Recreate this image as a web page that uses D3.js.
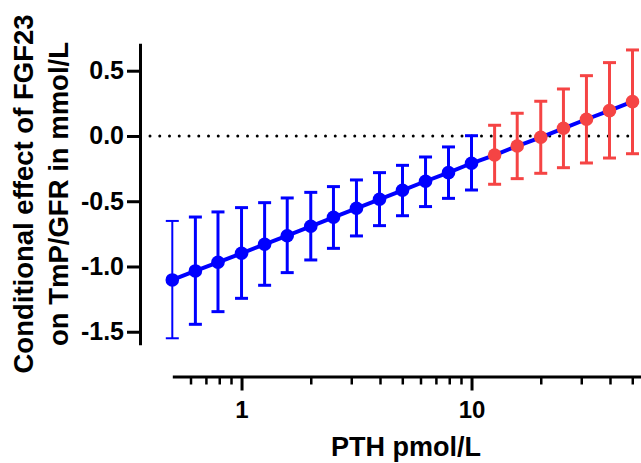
<!DOCTYPE html>
<html>
<head>
<meta charset="utf-8">
<script src="https://cdn.jsdelivr.net/npm/d3@7"></script>
<style>
  body { margin: 0; background: #fff; }
  svg { display: block; }
  text { font-family: "Liberation Sans", Arial, sans-serif; font-weight: bold; fill: #000; }
  .axis path, .axis line { stroke: #000; }
</style>
</head>
<body>
<script>
// PTH values (pmol/L) at which the conditional effect was evaluated
const pth = [0.5, 0.63, 0.79, 1.0, 1.26, 1.58, 2.0, 2.51, 3.16, 3.98, 5.01,
             6.31, 7.94, 10.0, 12.6, 15.8, 20.0, 25.1, 31.6, 39.8, 50.1]
// conditional effect of FGF23 and its CI
const effect = [-1.103, -1.034, -0.968, -0.899, -0.830, -0.764, -0.692, -0.623, -0.554, -0.485, -0.416,
                -0.347, -0.281, -0.209, -0.146, -0.077, -0.010, 0.059, 0.128, 0.194, 0.263]
const upper = [-0.651, -0.621, -0.582, -0.549, -0.511, -0.475, -0.432, -0.388, -0.337, -0.281, -0.225,
               -0.161, -0.084, 0.002, 0.082, 0.174, 0.266, 0.360, 0.462, 0.562, 0.659]
const lower = [-1.550, -1.443, -1.346, -1.244, -1.144, -1.047, -0.950, -0.861, -0.766, -0.687, -0.611,
               -0.541, -0.478, -0.414, -0.370, -0.327, -0.286, -0.243, -0.207, -0.169, -0.136]
// significance of each estimate
const sig = ['yes','yes','yes','yes','yes','yes','yes','yes','yes','yes','yes',
             'yes','yes','yes','no','no','no','no','no','no','no']

const yTicks = [-1.5, -1.0, -0.5, 0.0, 0.5]
const xMajor = [1, 10]
const xMinor = [0.6, 0.7, 0.8, 0.9, 2, 3, 4, 5, 6, 7, 8, 9, 20, 30, 40, 50]

const data = pth.map((p, i) => ({pth: p, est: effect[i], hi: upper[i], lo: lower[i], sig: sig[i]}))

const W = 641, H = 463
const color = {yes: '#0000ff', no: '#f54444'}

let svg = d3.select('body').append('svg')
    .attr('width', W)
    .attr('height', H)

let x = d3.scaleLog()
    .domain([0.5, 55])
    .range([172.3, 641.8])

let y = d3.scaleLinear()
    .domain([-1.6, 0.71])
    .range([344.8, 43.3])

const xAxisY = 376.5

// y axis
svg.append('g')
    .attr('class', 'y axis')
    .attr('transform', 'translate(140,0)')
    .call(d3.axisLeft(y).tickValues(yTicks).tickSize(13).tickSizeOuter(0)
      .tickFormat(d => d.toFixed(1)))
    .call(g => g.select('.domain').attr('stroke-width', 3))
    .call(g => g.selectAll('.tick line').attr('stroke-width', 3))
    .call(g => g.selectAll('.tick text').attr('x', -16).attr('font-size', 25))

// x axis: minor ticks then major ticks with labels
svg.append('g')
    .attr('class', 'x axis')
    .attr('transform', `translate(0,${xAxisY})`)
    .call(d3.axisBottom(x).tickValues(xMinor).tickSize(8).tickSizeOuter(0).tickFormat(''))
    .call(g => g.select('.domain').attr('stroke-width', 3))
    .call(g => g.selectAll('.tick line').attr('stroke-width', 2.5))

svg.append('g')
    .attr('class', 'x axis')
    .attr('transform', `translate(0,${xAxisY})`)
    .call(d3.axisBottom(x).tickValues(xMajor).tickSize(14).tickFormat(d3.format('d')))
    .call(g => g.select('.domain').remove())
    .call(g => g.selectAll('.tick line').attr('stroke-width', 3))
    .call(g => g.selectAll('.tick text').attr('y', 24).attr('font-size', 24))

// dotted reference line at zero
svg.append('line')
    .attr('x1', 150).attr('x2', 632)
    .attr('y1', y(0)).attr('y2', y(0))
    .attr('stroke', '#000')
    .attr('stroke-width', 3)
    .attr('stroke-linecap', 'round')
    .attr('stroke-dasharray', '0 9.75')

// error bars
const cap = 6.5
let bars = svg.append('g').selectAll('g')
  .data(data)
  .join('g')
    .attr('stroke', d => color[d.sig])
    .attr('stroke-width', (d, i) => i === 0 ? 2 : 3)
bars.append('line')
    .attr('x1', d => x(d.pth)).attr('x2', d => x(d.pth))
    .attr('y1', d => y(d.hi)).attr('y2', d => y(d.lo))
bars.append('line')
    .attr('x1', d => x(d.pth) - cap).attr('x2', d => x(d.pth) + cap)
    .attr('y1', d => y(d.hi)).attr('y2', d => y(d.hi))
bars.append('line')
    .attr('x1', d => x(d.pth) - cap).attr('x2', d => x(d.pth) + cap)
    .attr('y1', d => y(d.lo)).attr('y2', d => y(d.lo))

// connecting line
svg.append('path')
    .datum(data)
    .attr('fill', 'none')
    .attr('stroke', color.yes)
    .attr('stroke-width', 4)
    .attr('d', d3.line().x(d => x(d.pth)).y(d => y(d.est)))

// points
svg.append('g').selectAll('circle')
  .data(data)
  .join('circle')
    .attr('cx', d => x(d.pth))
    .attr('cy', d => y(d.est))
    .attr('r', 6.8)
    .attr('fill', d => color[d.sig])

// axis titles
svg.append('text')
    .attr('x', 406)
    .attr('y', 456)
    .attr('text-anchor', 'middle')
    .attr('font-size', 27)
    .text('PTH pmol/L')

let ylab = svg.append('text')
    .attr('transform', 'translate(33,194) rotate(-90)')
    .attr('text-anchor', 'middle')
    .attr('font-size', 27.5)
ylab.append('tspan').attr('x', 0).attr('y', 0).text('Conditional effect of FGF23')
ylab.append('tspan').attr('x', 0).attr('y', 35).text('on TmP/GFR in mmol/L')
</script>
</body>
</html>
